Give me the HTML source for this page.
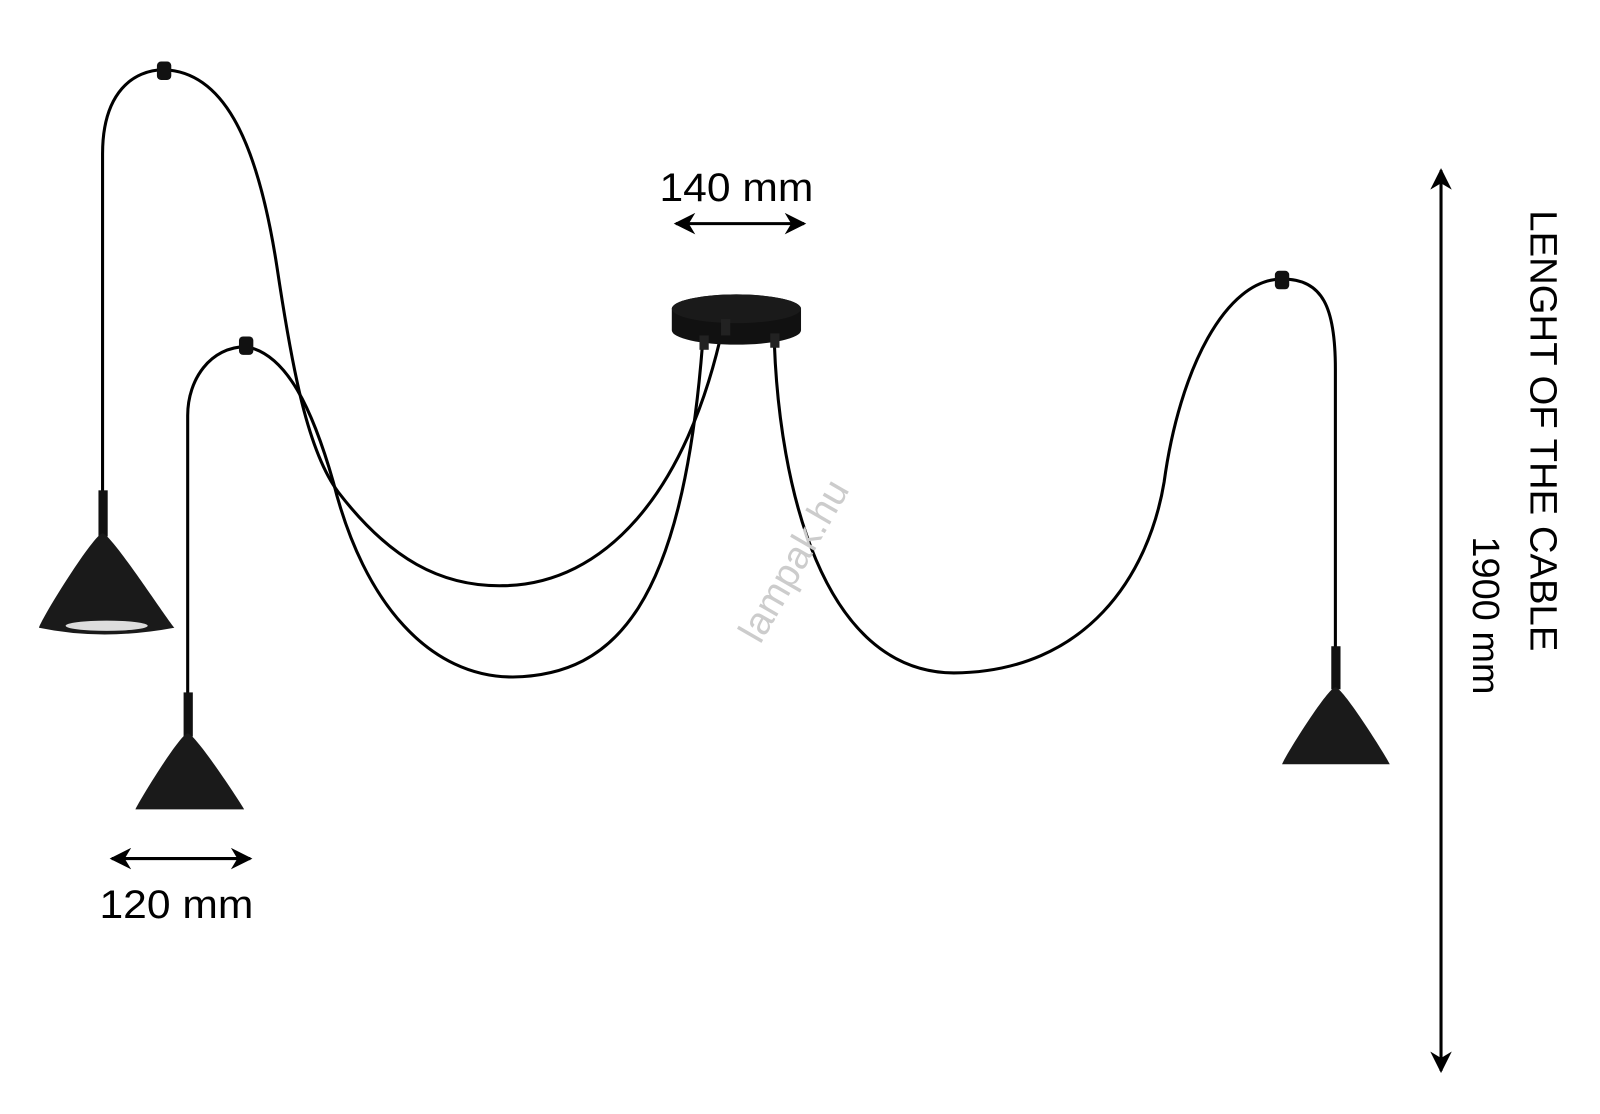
<!DOCTYPE html>
<html><head><meta charset="utf-8"><style>
html,body{margin:0;padding:0;background:#fff;width:1600px;height:1114px;overflow:hidden}
svg{display:block}
</style></head><body>
<svg width="1600" height="1114" viewBox="0 0 1560 1086" preserveAspectRatio="none" xmlns="http://www.w3.org/2000/svg">
<defs>
<marker id="ah" viewBox="0 0 10 10" refX="9" refY="5" markerWidth="7" markerHeight="7" orient="auto-start-reverse"><path d="M0,0 L10,5 L0,10 L3,5 Z" fill="#000"/></marker>
</defs>
<g fill="none" stroke="#000" stroke-width="3">
<path d="M100,480 L100,150 C100,90 130,68 160,68 C215,70 250,130 270,260 C285,360 300,440 330,480 C380,545 430,572 490,571 C590,570 670,480 705,318"/>
<path d="M183,680 L183,405 C183,370 205,338 240,338 C280,345 305,400 325,470 C355,590 420,660 500,660 C600,658 665,590 685,335"/>
<path d="M755,335 C760,470 800,655 930,656 C1060,655 1120,560 1135,470 C1150,360 1195,272 1250,272 C1290,272 1302,300 1302,360 L1302,635"/>
</g>
<rect x="153" y="60" width="14" height="18" rx="4" fill="#111"/>
<rect x="233" y="328" width="14" height="18" rx="4" fill="#111"/>
<rect x="1243" y="264" width="14" height="18" rx="4" fill="#111"/>
<!-- canopy -->
<path d="M655,301 A63,14 0 0 1 781,301 L781,322 A63,14 0 0 1 655,322 Z" fill="#111"/>
<ellipse cx="718" cy="301" rx="63" ry="14" fill="#1a1a1a"/>
<rect x="682" y="327" width="9" height="14" fill="#222"/>
<rect x="703" y="311" width="9" height="16" fill="#222"/>
<rect x="751" y="325" width="9" height="14" fill="#222"/>
<!-- lamp1 -->
<rect x="96" y="478" width="9" height="45" fill="#111"/>
<path d="M100,520 C92,520 42,600 38,612 Q100,625 170,612 C160,600 108,520 100,520 Z" fill="#1a1a1a"/>
<ellipse cx="104" cy="610" rx="40" ry="5" fill="#ddd"/>
<!-- lamp2 -->
<rect x="179" y="675" width="9" height="43" fill="#111"/>
<path d="M183,715 C176,715 136,780 132,789 L238,789 C233,780 190,715 183,715 Z" fill="#1a1a1a"/>
<!-- lamp3 -->
<rect x="1298" y="630" width="9" height="42" fill="#111"/>
<path d="M1302,670 C1295,670 1254,735 1250,745 L1355,745 C1350,735 1309,670 1302,670 Z" fill="#1a1a1a"/>
<g stroke="#000" stroke-width="3" fill="none">
<line x1="659" y1="218" x2="784" y2="218" marker-start="url(#ah)" marker-end="url(#ah)"/>
<line x1="109" y1="837" x2="244" y2="837" marker-start="url(#ah)" marker-end="url(#ah)"/>
<line x1="1405" y1="166" x2="1405" y2="1044" marker-start="url(#ah)" marker-end="url(#ah)"/>
</g>
<g font-family="Liberation Sans, sans-serif" fill="#000">
<text x="718" y="196" font-size="39" text-anchor="middle" textLength="150" lengthAdjust="spacingAndGlyphs">140 mm</text>
<text x="172" y="895" font-size="39" text-anchor="middle" textLength="150" lengthAdjust="spacingAndGlyphs">120 mm</text>
<text transform="translate(1492,420) rotate(90)" font-size="37" text-anchor="middle" textLength="430" lengthAdjust="spacingAndGlyphs">LENGHT OF THE CABLE</text>
<text transform="translate(1436,600) rotate(90)" font-size="37" text-anchor="middle">1900 mm</text>
<text transform="translate(785,553) rotate(-60)" font-size="38" text-anchor="middle" fill="#ccc">lampak.hu</text>
</g>
</svg>
</body></html>
